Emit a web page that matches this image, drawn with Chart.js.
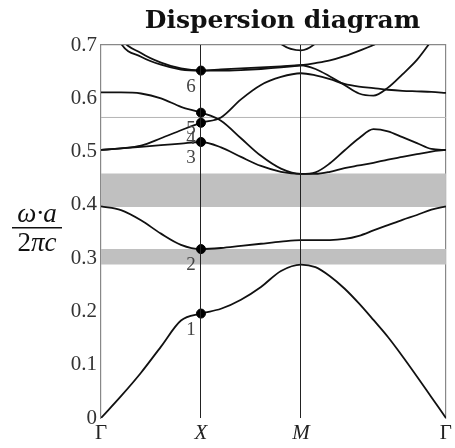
<!DOCTYPE html>
<html>
<head>
<meta charset="utf-8">
<script src="https://cdn.jsdelivr.net/npm/chart.js@4.4.1/dist/chart.umd.min.js"></script>
<style>
  html, body { margin: 0; padding: 0; background: #fff; overflow: hidden; }
  canvas { display: block; }
</style>
</head>
<body>
<canvas id="dispersion" width="455" height="448"></canvas>
<script>
// path through the Brillouin zone: Γ -> X -> M -> Γ
const kPath = [0, 0.2, 0.4, 0.6, 0.8, 1, 1.2, 1.4, 1.6, 1.8, 2,
    2.145, 2.29, 2.435, 2.58, 2.725, 2.87, 3.015, 3.16, 3.305, 3.45]
const tickPos = [0, 1, 2, 3.45]
const tickNames = ["Γ", "X", "M", "Γ"]

// normalized frequency ωa/2πc of each curve along kPath
const band1 = [0, 0.041, 0.085, 0.134, 0.183, 0.196, 0.205, 0.222, 0.246, 0.276, 0.288,
    0.283, 0.266, 0.243, 0.215, 0.184, 0.152, 0.116, 0.078, 0.039, 0]
const band2 = [0.397, 0.390, 0.371, 0.346, 0.325, 0.317, 0.319, 0.323, 0.327, 0.331, 0.334,
    0.334, 0.334, 0.336, 0.342, 0.352, 0.362, 0.372, 0.381, 0.391, 0.397]
const band3 = [0.503, 0.506, 0.509, 0.512, 0.515, 0.518, 0.508, 0.490, 0.473, 0.462, 0.458,
    0.458, 0.462, 0.469, 0.474, 0.479, 0.485, 0.490, 0.495, 0.500, 0.503]
const band4 = [0.503, 0.506, 0.511, 0.525, 0.540, 0.554, 0.564, 0.598, 0.625, 0.640, 0.647,
    0.643, 0.636, 0.627, 0.622, 0.619, 0.616, 0.614, 0.613, 0.612, 0.610]
const band5 = [0.611, 0.611, 0.609, 0.600, 0.584, 0.573, 0.558, 0.525, 0.492, 0.468, 0.458,
    0.461, 0.478, 0.502, 0.525, 0.542, 0.538, 0.527, 0.516, 0.505, 0.503]
const band6 = [0.80, 0.703, 0.678, 0.663, 0.654, 0.652, 0.654, 0.656, 0.658, 0.660, 0.662,
    0.655, 0.641, 0.625, 0.609, 0.605, 0.620, 0.645, 0.672, 0.708, 0.745]
const band7 = [0.82, 0.715, 0.685, 0.667, 0.656, 0.652, 0.652, 0.653, 0.655, 0.658, 0.662,
    0.666, 0.671, 0.679, 0.689, 0.700, 0.715, 0.730, 0.745, 0.760, 0.775]
const band8 = [null, null, null, null, null, null, null, null, 0.745, 0.702, 0.690,
    0.703, 0.735, null, null, null, null, null, null, null, null]

// band gaps (lower / upper edge) and the thin reference line
const gapLow = [0.396, 0.288]
const gapHigh = [0.459, 0.317]
const refLine = 0.564

// marked modes at X
const modesX = [0.196, 0.317, 0.518, 0.554, 0.573, 0.652]
const modeNames = ["1", "2", "3", "4", "5", "6"]

const serif = "'Liberation Serif', 'DejaVu Serif', serif"

function curve (values) {
    return {
        data: kPath.map((k, i) => ({x: k, y: values[i]})),
        borderColor: "#111",
        borderWidth: 1.8,
        pointRadius: 0,
        fill: false,
        cubicInterpolationMode: "monotone"
    }
}

function flat (y) {
    return [{x: tickPos[0], y: y}, {x: tickPos[tickPos.length - 1], y: y}]
}

let bands = [band1, band2, band3, band4, band5, band6, band7, band8]
let datasets = [{
    data: modesX.map(v => ({x: tickPos[1], y: v})),
    showLine: false,
    pointRadius: 4.5,
    pointBackgroundColor: "#000",
    pointBorderColor: "#000",
    borderColor: "rgba(0,0,0,0)"
}]
for (let b of bands) datasets.push(curve(b))
datasets.push({data: flat(refLine), borderColor: "#b4b4b4", borderWidth: 1, pointRadius: 0, fill: false})
for (let i = 0; i < gapLow.length; i++) {
    datasets.push({data: flat(gapLow[i]), borderColor: "rgba(0,0,0,0)", pointRadius: 0, fill: false})
    datasets.push({data: flat(gapHigh[i]), borderColor: "rgba(0,0,0,0)", pointRadius: 0,
        fill: "-1", backgroundColor: "#c0c0c0"})
}

const decorations = {
    id: "decorations",
    afterDatasetsDraw (chart) {
        let ctx = chart.ctx
        let meta = chart.getDatasetMeta(0)
        ctx.save()
        ctx.fillStyle = "#444"
        ctx.font = "19px " + serif
        ctx.textAlign = "center"
        ctx.textBaseline = "middle"
        meta.data.forEach((pt, i) => {
            ctx.fillText(modeNames[i], pt.x - 10, pt.y + 16)
        })
        ctx.restore()
    },
    afterDraw (chart) {
        let ctx = chart.ctx
        let a = chart.chartArea
        ctx.save()
        // keep the strip above the title clean
        ctx.fillStyle = "#fff"
        ctx.fillRect(0, 0, chart.width, 6)
        // title
        ctx.fillStyle = "#111"
        ctx.font = "bold 25px 'DejaVu Serif', serif"
        ctx.textAlign = "center"
        ctx.textBaseline = "alphabetic"
        ctx.fillText("Dispersion diagram", (a.left + a.right) / 2 + 9, 28)
        // y axis label drawn as a fraction
        let cx = 37
        ctx.font = "italic 27px " + serif
        ctx.fillText("ω·a", cx, 222)
        ctx.fillRect(12, 227, 50, 1.5)
        let up = "2", it = "πc"
        ctx.font = "27px " + serif
        let w1 = ctx.measureText(up).width
        ctx.font = "italic 27px " + serif
        let w2 = ctx.measureText(it).width
        let x0 = cx - (w1 + w2) / 2
        ctx.textAlign = "left"
        ctx.font = "27px " + serif
        ctx.fillText(up, x0, 251)
        ctx.font = "italic 27px " + serif
        ctx.fillText(it, x0 + w1, 251)
        ctx.restore()
    }
}

// bare axes used only to close the frame on the top and right
function frameAxis (position, axis) {
    return {
        type: "linear",
        position: position,
        axis: axis,
        ticks: {display: false},
        grid: {display: false, drawTicks: false},
        border: {display: true, color: "#888", width: 1.2},
        afterFit: scale => { if (axis === "x") scale.height = 0; else scale.width = 0 }
    }
}

new Chart("dispersion", {
    type: "line",
    data: {datasets: datasets},
    options: {
        responsive: false,
        animation: false,
        devicePixelRatio: 1,
        layout: {padding: {left: 0, right: 6, top: 45, bottom: 0}},
        plugins: {legend: {display: false}, tooltip: {enabled: false}, title: {display: false}},
        scales: {
            x: {
                type: "linear",
                min: tickPos[0],
                max: tickPos[tickPos.length - 1],
                afterBuildTicks: scale => { scale.ticks = tickPos.map(v => ({value: v})) },
                afterFit: scale => { scale.height = 30 },
                ticks: {
                    autoSkip: false,
                    maxRotation: 0,
                    padding: 3,
                    color: "#222",
                    callback: (v, i) => tickNames[i],
                    font: ctx => ({family: serif, size: 21, style: (ctx.index === 1 || ctx.index === 2) ? "italic" : "normal"})
                },
                grid: {
                    z: 1,
                    drawTicks: false,
                    lineWidth: 1,
                    color: ctx => (ctx.index === 1 || ctx.index === 2) ? "#222" : "rgba(0,0,0,0)"
                },
                border: {display: true, color: "#333", width: 1}
            },
            y: {
                min: 0,
                max: 0.7,
                afterFit: scale => { scale.width = 101 },
                ticks: {
                    stepSize: 0.1,
                    padding: 4,
                    color: "#333",
                    font: {family: serif, size: 21},
                    callback: v => v === 0 ? "0" : v.toFixed(1)
                },
                grid: {display: false, drawTicks: false},
                border: {display: true, color: "#888", width: 1.2}
            },
            xTop: frameAxis("top", "x"),
            yRight: frameAxis("right", "y")
        }
    },
    plugins: [decorations]
})
</script>
</body>
</html>
